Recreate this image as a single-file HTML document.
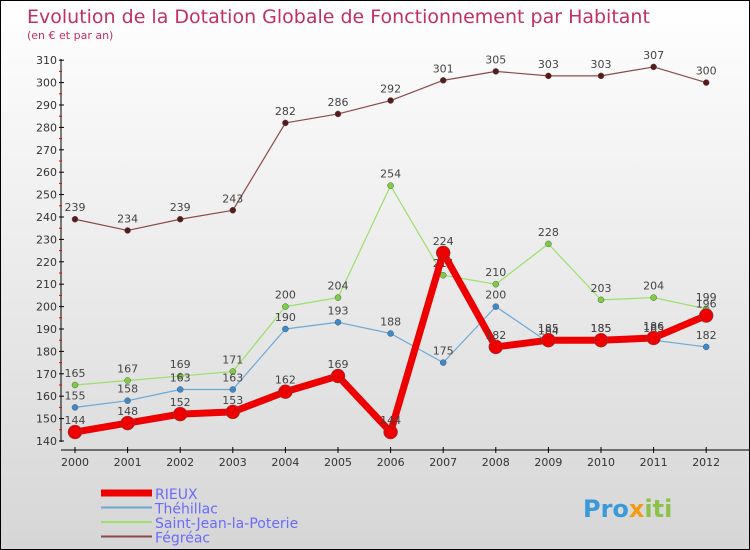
<!DOCTYPE html>
<html><head><meta charset="utf-8"><style>
body{margin:0}
#c{width:748px;height:548px;border:1px solid #000;background:linear-gradient(#fff,#d6d6d6);position:relative;font-family:"DejaVu Sans","Liberation Sans",sans-serif;overflow:hidden}
</style></head><body>
<div id="c">
<svg id="s" width="748" height="548" xmlns="http://www.w3.org/2000/svg">
<text x="26" y="22" font-size="19" fill="#c2305e">Evolution de la Dotation Globale de Fonctionnement par Habitant</text>
<text x="26" y="38" font-size="11" fill="#c2305e">(en € et par an)</text>
<g id="axes"></g><g id="series"></g><g id="legend"></g>
<text x="582" y="516" font-size="24" font-weight="bold" fill="#3a9ad9">Pro<tspan fill="#f39c12">x</tspan><tspan fill="#8bc34a">iti</tspan></text>
</svg></div>
<script>
const years=[2000,2001,2002,2003,2004,2005,2006,2007,2008,2009,2010,2011,2012];
const rieux=[144,148,152,153,162,169,144,224,182,185,185,186,196];
const thehillac=[155,158,163,163,190,193,188,175,200,184,185,185,182];
const saintJean=[165,167,169,171,200,204,254,214,210,228,203,204,199];
const fegreac=[239,234,239,243,282,286,292,301,305,303,303,307,300];
const yTicks=[140,150,160,170,180,190,200,210,220,230,240,250,260,270,280,290,300,310];
const NS="http://www.w3.org/2000/svg";
const X=i=>74+i*52.6, Y=v=>440-(v-140)*2.24;
function mk(tag,attrs,parent){const e=document.createElementNS(NS,tag);for(const k in attrs)e.setAttribute(k,attrs[k]);parent.appendChild(e);return e;}
const ax=document.getElementById('axes');
let l=mk('line',{x1:60,y1:58,x2:60,y2:441,stroke:'#000'},ax);


l=mk('line',{x1:60,y1:449,x2:748,y2:449,stroke:'#000'},ax);


yTicks.forEach(v=>{mk('line',{x1:58,x2:63,y1:Y(v),y2:Y(v),stroke:'#000'},ax);
 if(v<310)mk('line',{x1:58,x2:61,y1:Y(v+5),y2:Y(v+5),stroke:'#e00'},ax);
 const t=mk('text',{x:56,y:Y(v)+4,'font-size':11,'text-anchor':'end',fill:'#333'},ax);t.textContent=v;
 
 });
years.forEach((yr,i)=>{mk('line',{x1:X(i),x2:X(i),y1:446,y2:452,stroke:'#000'},ax);
 const t=mk('text',{x:X(i),y:465,'font-size':11,'text-anchor':'middle',fill:'#333'},ax);t.textContent=yr;
 
 });
const sg=document.getElementById('series');
function series(name,data,color,w,r,dot){
 const g=mk('g',{},sg);
 
 
 const p=mk('polyline',{points:data.map((v,i)=>X(i)+','+Y(v)).join(' '),fill:'none',stroke:color,'stroke-width':w,'stroke-linejoin':'round'},g);
 
 
 data.forEach((v,i)=>{const c=mk('circle',{cx:X(i),cy:Y(v),r:r,fill:dot,stroke:'#555','stroke-width':0.5},g);
  
  
  const t=mk('text',{x:X(i),y:Y(v)-8,'font-size':11,'text-anchor':'middle',fill:'#444'},g);t.textContent=v;
  
  });
}
series('fegreac',fegreac,'#8b4a4a',1.2,3,'#5a1a1a');
series('saint-jean',saintJean,'#9be06a',1.2,3,'#7cd040');
series('thehillac',thehillac,'#6aa8d8',1.2,3,'#3a8ad0');
series('rieux',rieux,'#ee0000',7,7,'#ee0000');
const lg=document.getElementById('legend');
const items=[['RIEUX','#ee0000',7],['Théhillac','#6aa8d8',2],['Saint-Jean-la-Poterie','#9be06a',2],['Fégréac','#8b4a4a',2]];
items.forEach((it,i)=>{const y=492+i*14.5;
 const ln=mk('line',{x1:100,x2:151,y1:y,y2:y,stroke:it[1],'stroke-width':it[2]},lg);
 
 
 const t=mk('text',{x:154,y:y+6,'font-size':14,fill:'#6a6aff'},lg);t.textContent=it[0];
 
 });
</script>
</body></html>
